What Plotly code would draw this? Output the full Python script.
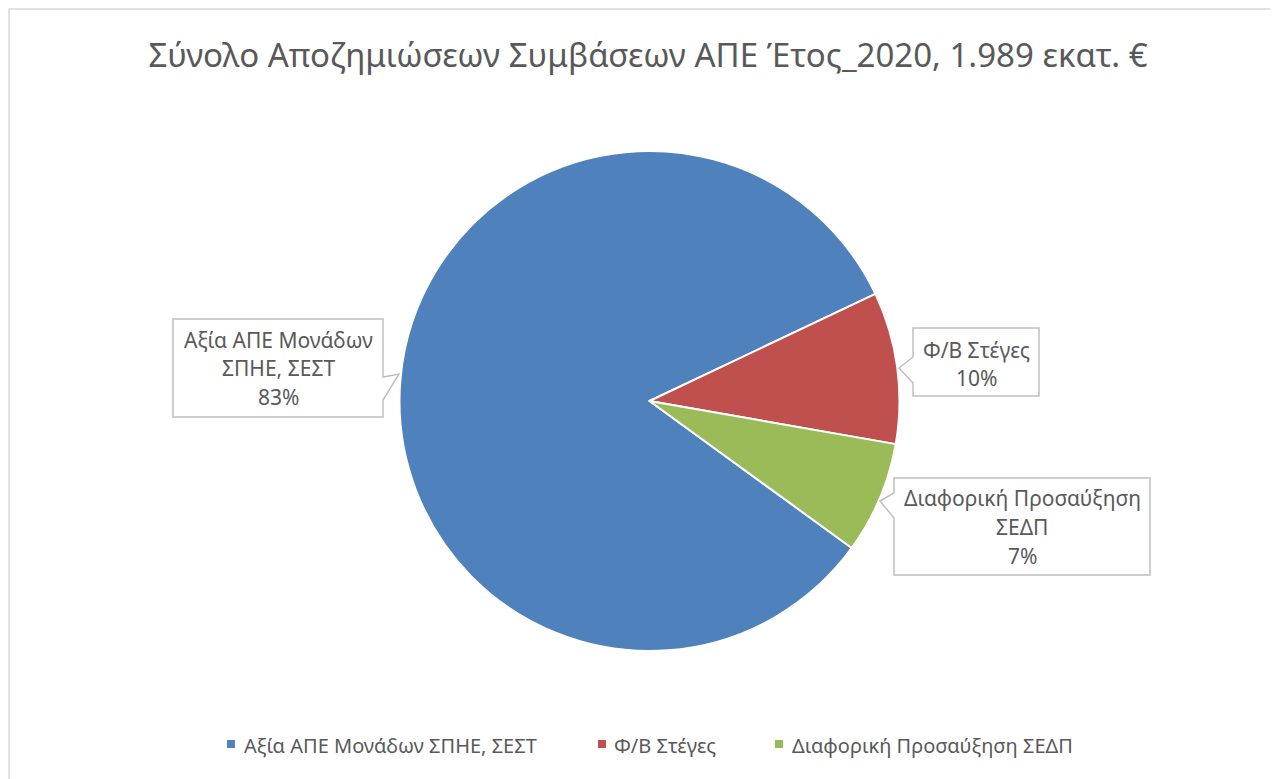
import plotly.graph_objects as go

W, H = 1278, 779
OFF = 8  # page body margin in the browser

title_text = "Σύνολο Αποζημιώσεων Συμβάσεων ΑΠΕ Έτος_2020, 1.989 εκατ. €"
categories = ["Αξία ΑΠΕ Μονάδων ΣΠΗΕ, ΣΕΣΤ", "Φ/Β Στέγες", "Διαφορική Προσαύξηση ΣΕΔΠ"]
label_lines = [["Αξία ΑΠΕ Μονάδων", "ΣΠΗΕ, ΣΕΣΤ"], ["Φ/Β Στέγες"], ["Διαφορική Προσαύξηση", "ΣΕΔΠ"]]
values = [1.650, 0.195, 0.144]
colors = ["#4f81bd", "#c0504d", "#9bbb59"]

FONT = "Noto Sans"
GRAY = "#595959"


def px(x):
    return (x - OFF) / W


def py(y):
    return 1 - (y - OFF) / H


fig = go.Figure()
fig.add_trace(go.Pie(
    labels=categories,
    values=values,
    sort=False,
    direction="clockwise",
    rotation=126,
    marker=dict(colors=colors, line=dict(color="white", width=2)),
    textinfo="none",
    hoverinfo="label+percent",
    showlegend=False,
    domain=dict(x=[px(399), px(900)], y=[py(651), py(151)]),
))

total = sum(values)
pcts = [f"{round(v / total * 100)}%" for v in values]

# callout boxes with pointers
boxes = [
    dict(l=173, r=383, path=[(173, 319), (383, 319), (383, 377), (399, 374), (383, 400), (383, 417), (173, 417)], lines_y=[340, 368, 397]),
    dict(l=913, r=1039, path=[(913, 328), (1039, 328), (1039, 396), (913, 396), (913, 383), (899, 368), (913, 357)], lines_y=[350, 378]),
    dict(l=894, r=1150, path=[(894, 478), (1150, 478), (1150, 575), (894, 575), (894, 518), (880, 501), (894, 493)], lines_y=[498, 527, 556]),
]

shapes = []
annotations = []

# chart outer border (partially visible)
shapes.append(dict(type="rect", xref="paper", yref="paper", x0=px(9), y0=-0.05, x1=1.05, y1=py(9),
                   line=dict(color="#d9d9d9", width=1.5), fillcolor="rgba(0,0,0,0)", layer="below"))

for i, bx in enumerate(boxes):
    pts = bx["path"]
    d = "M " + " L ".join(f"{px(x)},{py(y)}" for x, y in pts) + " Z"
    shapes.append(dict(type="path", xref="paper", yref="paper", path=d,
                       fillcolor="white", line=dict(color="#bfbfbf", width=1.5), layer="above"))
    texts = label_lines[i] + [pcts[i]]
    cx = (bx["l"] + bx["r"]) / 2
    for t, yy in zip(texts, bx["lines_y"]):
        annotations.append(dict(x=px(cx), y=py(yy), xref="paper", yref="paper", text=t,
                                showarrow=False, xanchor="center", yanchor="middle",
                                font=dict(family=FONT, size=21, color=GRAY)))

# legend (manual, to match spacing)
legend_marker_x = [231, 602, 779]
legend_text_x = [242, 612, 790]
LEG_Y = 745
for i, name in enumerate(categories):
    mx = legend_marker_x[i]
    shapes.append(dict(type="rect", xref="paper", yref="paper",
                       x0=px(mx - 4), x1=px(mx + 4), y0=py(LEG_Y + 3), y1=py(LEG_Y - 5),
                       fillcolor=colors[i], line=dict(width=0)))
    annotations.append(dict(x=px(legend_text_x[i]), y=py(LEG_Y), xref="paper", yref="paper", text=name,
                            showarrow=False, xanchor="left", yanchor="middle",
                            font=dict(family=FONT, size=20, color=GRAY)))

fig.update_layout(
    width=W, height=H,
    margin=dict(l=0, r=0, t=0, b=0),
    paper_bgcolor="white",
    plot_bgcolor="white",
    title=dict(text=title_text, x=px(648), xanchor="center", y=py(55), yanchor="middle",
               font=dict(family=FONT, size=33, color=GRAY)),
    showlegend=False,
    shapes=shapes,
    annotations=annotations,
)

fig.write_html("out.html")
